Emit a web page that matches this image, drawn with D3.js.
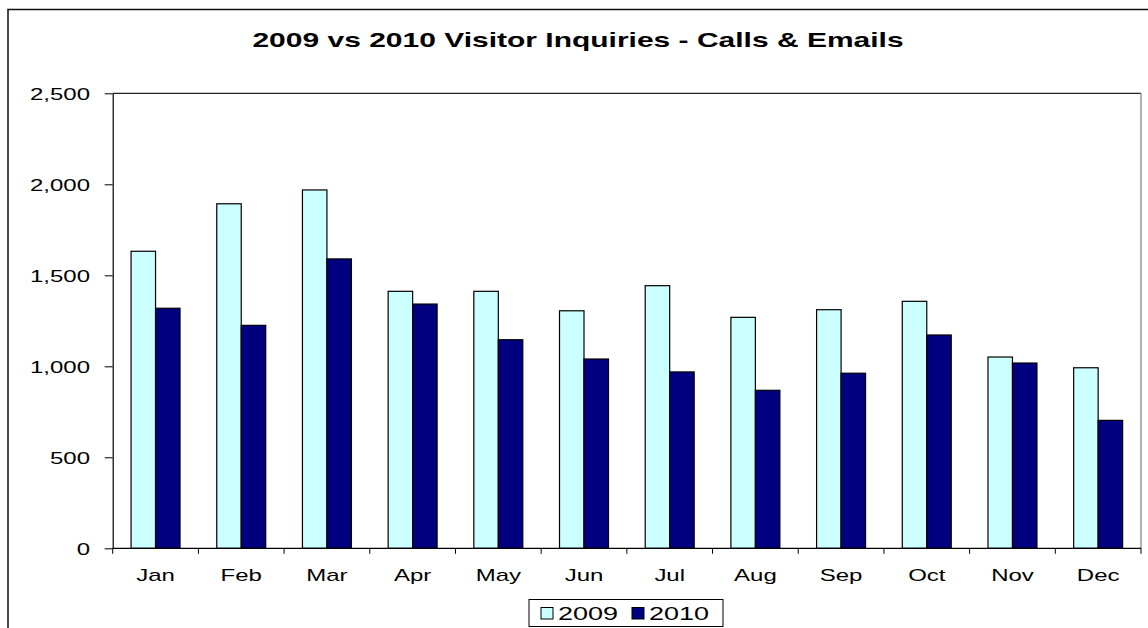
<!DOCTYPE html>
<html>
<head>
<meta charset="utf-8">
<script src="https://cdn.jsdelivr.net/npm/d3@7"></script>
<style>
  body { margin: 0; background: #fff; }
  svg { display: block; font-family: "Liberation Sans", Arial, sans-serif; }
</style>
</head>
<body>
<div id="chart"></div>
<script>
// data
const months = ['Jan', 'Feb', 'Mar', 'Apr', 'May', 'Jun', 'Jul', 'Aug', 'Sep', 'Oct', 'Nov', 'Dec'];
const seriesNames = ['2009', '2010'];
const values2009 = [1632, 1893, 1969, 1412, 1412, 1305, 1443, 1269, 1311, 1357, 1051, 992];
const values2010 = [1319, 1225, 1590, 1342, 1146, 1040, 969, 868, 962, 1172, 1018, 703];
const yTicks = [0, 500, 1000, 1500, 2000, 2500];
const titleText = '2009 vs 2010 Visitor Inquiries - Calls & Emails';

const width = 1148, height = 628;
const colors = {'2009': '#CCFFFF', '2010': '#000080'};
// the original image is stretched sideways, so text is widened too
const stretch = 1.5;

const plot = {left: 112.7, right: 1141, top: 93.3, bottom: 548.3};

const rows = months.map((m, i) => ({month: m, '2009': values2009[i], '2010': values2010[i]}));

const svg = d3.select('#chart').append('svg')
    .attr('width', width)
    .attr('height', height);

// outer chart frame (only top and left are visible)
svg.append('path')
    .attr('d', `M8,${height} L8,9.5 L${width},9.5`)
    .attr('fill', 'none')
    .attr('stroke', '#111')
    .attr('stroke-width', 1.5);

// title
svg.append('text')
    .attr('transform', `translate(578,47.3) scale(${stretch},1)`)
    .attr('text-anchor', 'middle')
    .attr('font-size', 20)
    .attr('font-weight', 'bold')
    .attr('fill', '#000')
    .text(titleText);

// scales
const xScale = d3.scaleBand()
    .domain(months)
    .range([plot.left, plot.right]);

// gap width 150% -> each bar is band / 3.5
const barW = xScale.bandwidth() / 3.5;
const xInner = d3.scaleBand()
    .domain(seriesNames)
    .range([(xScale.bandwidth() - 2 * barW) / 2, (xScale.bandwidth() + 2 * barW) / 2]);

const yScale = d3.scaleLinear()
    .domain([0, 2500])
    .range([plot.bottom, plot.top]);

// plot area border (top and right)
svg.append('line')
    .attr('x1', plot.left).attr('x2', plot.right)
    .attr('y1', plot.top).attr('y2', plot.top)
    .attr('stroke', '#222').attr('stroke-width', 1.2);
svg.append('line')
    .attr('x1', plot.right).attr('x2', plot.right)
    .attr('y1', plot.top).attr('y2', plot.bottom)
    .attr('stroke', '#999').attr('stroke-width', 1.5);

// bars
const groups = svg.append('g').selectAll('g')
    .data(rows)
    .join('g')
    .attr('transform', d => `translate(${xScale(d.month)},0)`);

groups.selectAll('rect')
    .data(d => seriesNames.map(s => ({key: s, value: d[s]})))
    .join('rect')
    .attr('x', d => xInner(d.key))
    .attr('width', xInner.bandwidth())
    .attr('y', d => yScale(d.value))
    .attr('height', d => yScale(0) - yScale(d.value))
    .attr('fill', d => colors[d.key])
    .attr('stroke', '#000')
    .attr('stroke-width', 1.2);

// y axis
const yAxis = d3.axisLeft(yScale)
    .tickValues(yTicks)
    .tickFormat(d3.format(','))
    .tickSize(8)
    .tickSizeOuter(0);

const yAxisG = svg.append('g')
    .attr('transform', `translate(${plot.left},0)`)
    .call(yAxis);
yAxisG.select('.domain').attr('stroke', '#000').attr('stroke-width', 1.2);
yAxisG.selectAll('.tick line').attr('stroke', '#000');
yAxisG.selectAll('.tick text')
    .attr('x', -22.7 / stretch)
    .attr('dy', '0.36em')
    .attr('transform', `scale(${stretch},1)`)
    .attr('font-size', 16)
    .attr('font-family', null)
    .attr('fill', '#000');

// x axis: labels centred on bands, ticks on band boundaries
const xAxis = d3.axisBottom(xScale).tickSize(0).tickSizeOuter(0);
const xAxisG = svg.append('g')
    .attr('transform', `translate(0,${plot.bottom})`)
    .call(xAxis);
xAxisG.select('.domain')
    .attr('d', `M${plot.left},0H${plot.right}`)
    .attr('stroke', '#000').attr('stroke-width', 1.2);
xAxisG.selectAll('.tick text')
    .attr('y', 32.7)
    .attr('dy', 0)
    .attr('transform', `scale(${stretch},1)`)
    .attr('font-size', 16)
    .attr('font-family', null)
    .attr('fill', '#000');

const boundaries = months.map(m => xScale(m)).concat([xScale.range()[1]]);
xAxisG.selectAll('.bound')
    .data(boundaries)
    .join('line')
    .attr('class', 'bound')
    .attr('x1', d => d).attr('x2', d => d)
    .attr('y1', 0).attr('y2', 5.5)
    .attr('stroke', '#000');

// legend
const legend = svg.append('g').attr('transform', 'translate(529,599.5)');
legend.append('rect')
    .attr('width', 194).attr('height', 27)
    .attr('fill', '#fff')
    .attr('stroke', '#000')
    .attr('stroke-width', 1);

const legendX = {'2009': 12, '2010': 103};
const items = legend.selectAll('.item')
    .data(seriesNames)
    .join('g')
    .attr('class', 'item')
    .attr('transform', d => `translate(${legendX[d]},8)`);
items.append('rect')
    .attr('width', 12).attr('height', 11.5)
    .attr('fill', d => colors[d])
    .attr('stroke', '#000');
items.append('text')
    .attr('transform', `translate(17,12.3) scale(${stretch},1)`)
    .attr('font-size', 18)
    .attr('fill', '#000')
    .text(d => d);
</script>
</body>
</html>
